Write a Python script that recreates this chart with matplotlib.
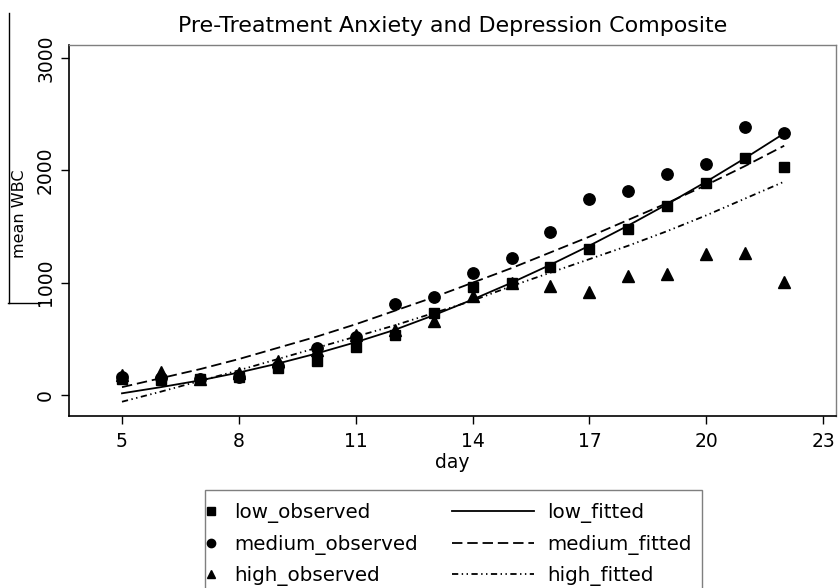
import matplotlib
matplotlib.use('Agg')
import matplotlib.pyplot as plt
from matplotlib.lines import Line2D
from matplotlib.patches import Rectangle

plt.rcParams['font.family'] = ['DejaVu Sans']
plt.rcParams['lines.scale_dashes'] = False

days = list(range(5, 23))

low_observed = [140, 130, 140, 160, 240, 300, 430, 530, 730, 960, 1000, 1140, 1300, 1478, 1680, 1890, 2115, 2030]
medium_observed = [160, 150, 140, 160, 260, 420, 515, 810, 873, 1086, 1220, 1452, 1745, 1816, 1968, 2057, 2386, 2333]
high_observed = [175, 205, 140, 200, 300, 400, 530, 580, 659, 880, 1000, 970, 917, 1060, 1077, 1256, 1264, 1006]

low_fitted = [15, 70, 130, 200, 280, 370, 470, 580, 710, 850, 1000, 1160, 1330, 1510, 1700, 1900, 2110, 2330]
medium_fitted = [70, 150, 230, 320, 420, 520, 630, 750, 870, 1000, 1130, 1270, 1410, 1560, 1710, 1870, 2040, 2220]
high_fitted = [-60, 30, 125, 220, 320, 420, 520, 620, 730, 840, 970, 1090, 1210, 1330, 1460, 1600, 1750, 1900]

x_ticks = [5, 8, 11, 14, 17, 20, 23]
y_ticks = [0, 1000, 2000, 3000]

W, H = 838, 588


def main():
  fig = plt.figure(figsize=(W / 100, H / 100), dpi=100)
  ax = fig.add_axes([69 / W, 1 - 416 / H, (836 - 69) / W, (416 - 45) / H])

  lw = 1.3
  fit_low, = ax.plot(days, low_fitted, color='black', lw=lw, ls='-', label='low_fitted')
  fit_med, = ax.plot(days, medium_fitted, color='black', lw=lw, ls=(0, (7.5, 3.5)), label='medium_fitted')
  fit_high, = ax.plot(days, high_fitted, color='black', lw=lw,
                      ls=(0, (4.5, 2.5, 1, 2.5, 1, 2.5)), label='high_fitted')

  obs_low, = ax.plot(days, low_observed, 's', color='black', ms=7.8, label='low_observed')
  obs_med, = ax.plot(days, medium_observed, 'o', color='black', ms=8.2, label='medium_observed')
  obs_high, = ax.plot(days, high_observed, '^', color='black', ms=8.8, label='high_observed')

  ax.set_xlim(3.64, 23.33)
  ax.set_ylim(-187, 3117)
  ax.set_xticks(x_ticks)
  ax.set_yticks(y_ticks)
  ax.tick_params(direction='out', length=6, width=1, labelsize=13.5, pad=4)
  ax.tick_params(axis='x', pad=5.5)
  for lbl in ax.get_yticklabels():
    lbl.set_rotation(90)
    lbl.set_va('center')

  for side in ['left', 'bottom']:
    ax.spines[side].set_color('black')
    ax.spines[side].set_linewidth(1.2)
  for side in ['top', 'right']:
    ax.spines[side].set_color('#7f7f7f')
    ax.spines[side].set_linewidth(1)

  ax.set_title('Pre-Treatment Anxiety and Depression Composite', fontsize=15.9, pad=9)
  ax.set_xlabel('day', fontsize=13.5, labelpad=1.5)
  fig.text(20 / W, 1 - 214 / H, 'mean WBC', rotation=90, fontsize=11.5, ha='center', va='center')

  # scan leftovers next to the y label
  fig.add_artist(Line2D([9 / W, 9 / W], [1 - 13 / H, 1 - 303 / H], color='black', lw=1))
  fig.add_artist(Line2D([8 / W, 40 / W], [1 - 303 / H, 1 - 303 / H], color='black', lw=1))

  # legend frame, cut by the bottom of the picture
  fig.add_artist(Rectangle((205 / W, -0.05), (702 - 205) / W, 1 - 490 / H + 0.05,
                           transform=fig.transFigure, fill=False, edgecolor='#7f7f7f', lw=1))

  leg_kw = dict(loc='upper left', frameon=False, fontsize=14.3, labelspacing=0.58,
                borderaxespad=0, borderpad=0)
  leg_a = fig.legend([obs_low, obs_med, obs_high],
                     ['low_observed', 'medium_observed', 'high_observed'],
                     bbox_to_anchor=(206 / W, 1 - 503 / H), handlelength=0.55,
                     handletextpad=0.85, **leg_kw)
  for h in leg_a.legend_handles:
    h.set_markersize(6)
  fig.legend([fit_low, fit_med, fit_high],
             ['low_fitted', 'medium_fitted', 'high_fitted'],
             bbox_to_anchor=(452 / W, 1 - 503 / H), handlelength=4.13,
             handletextpad=0.65, **leg_kw)

  fig.savefig('out.png', dpi=100)


if __name__ == '__main__':
  main()
